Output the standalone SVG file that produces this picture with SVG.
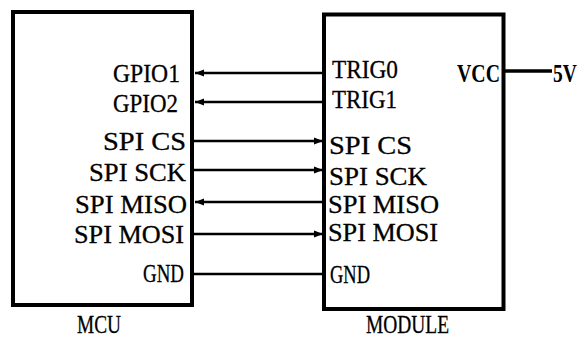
<svg xmlns="http://www.w3.org/2000/svg" width="581" height="338" viewBox="0 0 581 338">
<style>
.box{fill:#fff;stroke:#000;stroke-width:4}
.w{stroke:#000;stroke-width:2.5;fill:none}
text{font-family:"Liberation Serif","Times New Roman",serif;font-size:26px;fill:#000;stroke:#000;stroke-width:0.3}
.b{font-weight:bold;stroke-width:0}
.s{font-size:25px}
</style>
<defs>
<marker id="ah" markerUnits="userSpaceOnUse" markerWidth="10" markerHeight="8" refX="9" refY="4" orient="auto">
<path d="M0,0.5 L9,4 L0,7.5 Z" fill="#000"/>
</marker>
</defs>
<rect width="581" height="338" fill="#fff"/>
<g id="mcu">
<rect class="box" x="13" y="12" width="179" height="293"/>
<text x="113" y="82" textLength="67" lengthAdjust="spacingAndGlyphs">GPIO1</text>
<text x="113" y="112" textLength="65" lengthAdjust="spacingAndGlyphs">GPIO2</text>
<text x="103" y="150" textLength="83" lengthAdjust="spacingAndGlyphs">SPI CS</text>
<text x="89" y="181" textLength="97" lengthAdjust="spacingAndGlyphs">SPI SCK</text>
<text x="75" y="213" textLength="112" lengthAdjust="spacingAndGlyphs">SPI MISO</text>
<text x="74" y="243" textLength="110" lengthAdjust="spacingAndGlyphs">SPI MOSI</text>
<text x="143" y="282" textLength="41" lengthAdjust="spacingAndGlyphs">GND</text>
<text class="s" x="77" y="333" textLength="44" lengthAdjust="spacingAndGlyphs">MCU</text>
</g>
<g id="module">
<rect class="box" x="324" y="14.5" width="179.5" height="294.5"/>
<text x="332" y="78" textLength="66" lengthAdjust="spacingAndGlyphs">TRIG0</text>
<text x="332" y="108" textLength="65" lengthAdjust="spacingAndGlyphs">TRIG1</text>
<text x="329" y="154" textLength="83" lengthAdjust="spacingAndGlyphs">SPI CS</text>
<text x="329" y="185" textLength="98" lengthAdjust="spacingAndGlyphs">SPI SCK</text>
<text x="328" y="213" textLength="111" lengthAdjust="spacingAndGlyphs">SPI MISO</text>
<text x="328" y="241" textLength="110" lengthAdjust="spacingAndGlyphs">SPI MOSI</text>
<text x="330" y="283" textLength="40" lengthAdjust="spacingAndGlyphs">GND</text>
<text class="b" x="457" y="82" textLength="43" lengthAdjust="spacingAndGlyphs">VCC</text>
<text class="s" x="366" y="333" textLength="83" lengthAdjust="spacingAndGlyphs">MODULE</text>
</g>
<g id="power">
<text class="b" transform="translate(553,82) scale(0.75,1)" font-size="25">5V</text>
</g>
<g id="connectors">
<line class="w" x1="324" y1="73" x2="195" y2="73" marker-end="url(#ah)"/>
<line class="w" x1="324" y1="102" x2="195" y2="102" marker-end="url(#ah)"/>
<line class="w" x1="192" y1="141" x2="323" y2="141" marker-end="url(#ah)"/>
<line class="w" x1="192" y1="170" x2="323" y2="170" marker-end="url(#ah)"/>
<line class="w" x1="324" y1="202" x2="195" y2="202" marker-end="url(#ah)"/>
<line class="w" x1="192" y1="234" x2="323" y2="234" marker-end="url(#ah)"/>
<line class="w" x1="192" y1="274" x2="324" y2="274"/>
<line x1="503" y1="71" x2="552" y2="71" stroke="#000" stroke-width="3.5"/>
</g>
</svg>
